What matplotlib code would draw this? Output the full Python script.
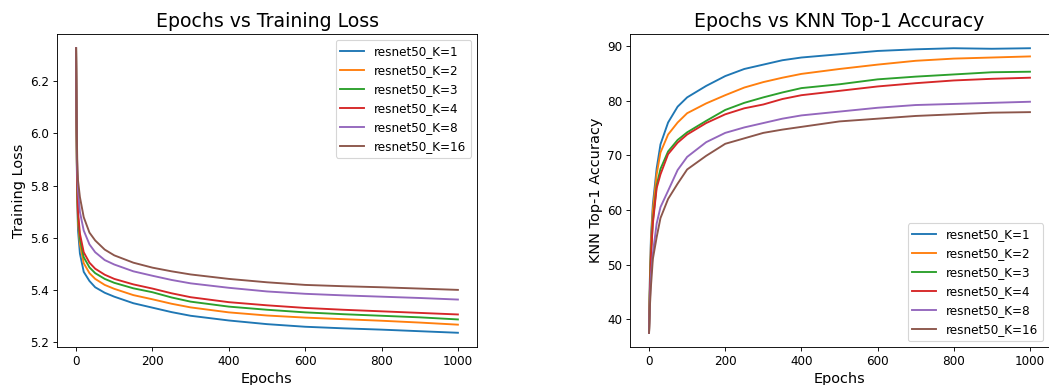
import matplotlib
matplotlib.use('Agg')
from matplotlib import pyplot as plt

labels = ['resnet50_K=1', 'resnet50_K=2', 'resnet50_K=3',
          'resnet50_K=4', 'resnet50_K=8', 'resnet50_K=16']

# valores (loss)
epocas_loss = [0, 1, 2, 3, 5, 10, 20, 35, 50, 75, 100, 150, 200, 250,
               300, 400, 500, 600, 700, 800, 900, 1000]
loss_k1 = [6.325, 6.05, 5.86, 5.75, 5.63, 5.54, 5.47, 5.435, 5.411, 5.39, 5.375,
           5.350, 5.333, 5.316, 5.302, 5.284, 5.270, 5.260, 5.254, 5.249, 5.243, 5.237]
loss_k2 = [6.325, 6.06, 5.88, 5.77, 5.66, 5.577, 5.503, 5.465, 5.443, 5.42, 5.405,
           5.381, 5.365, 5.348, 5.334, 5.315, 5.303, 5.295, 5.289, 5.283, 5.276, 5.268]
loss_k3 = [6.325, 6.06, 5.89, 5.79, 5.68, 5.597, 5.526, 5.487, 5.465, 5.443, 5.428,
           5.407, 5.392, 5.372, 5.356, 5.337, 5.325, 5.315, 5.308, 5.302, 5.296, 5.288]
loss_k4 = [6.325, 6.07, 5.90, 5.80, 5.70, 5.616, 5.545, 5.505, 5.482, 5.459, 5.443,
           5.422, 5.406, 5.388, 5.373, 5.354, 5.342, 5.332, 5.325, 5.319, 5.313, 5.307]
loss_k8 = [6.325, 6.10, 5.95, 5.86, 5.78, 5.699, 5.628, 5.575, 5.545, 5.515, 5.498,
           5.472, 5.455, 5.439, 5.426, 5.409, 5.395, 5.386, 5.380, 5.375, 5.370, 5.364]
loss_k16 = [6.325, 6.13, 5.99, 5.90, 5.82, 5.756, 5.679, 5.62, 5.59, 5.555, 5.533,
            5.505, 5.486, 5.472, 5.460, 5.443, 5.430, 5.420, 5.415, 5.411, 5.406, 5.401]

# valores (acuracia KNN)
epocas_acc = [0, 2, 5, 10, 20, 30, 50, 75, 100, 150, 200, 250, 300,
              350, 400, 500, 600, 700, 800, 900, 1000]
acc_k1 = [37.5, 47, 55, 61, 67.6, 72.0, 76.0, 78.9, 80.6, 82.7, 84.5, 85.8, 86.6,
          87.4, 87.9, 88.5, 89.1, 89.4, 89.6, 89.5, 89.6]
acc_k2 = [37.5, 46, 54, 60, 66.5, 70.5, 73.8, 76.0, 77.7, 79.5, 81.0, 82.4, 83.4,
          84.2, 84.9, 85.8, 86.6, 87.3, 87.7, 87.9, 88.1]
acc_k3 = [37.5, 45, 52, 58, 64.5, 67.5, 70.7, 72.8, 74.2, 76.3, 78.3, 79.6, 80.6,
          81.5, 82.3, 83.0, 83.9, 84.4, 84.8, 85.2, 85.3]
acc_k4 = [37.5, 44.5, 51.5, 57.5, 64, 66.5, 70.2, 72.3, 73.8, 75.9, 77.5, 78.6, 79.3,
          80.3, 81.0, 81.8, 82.6, 83.2, 83.7, 84.0, 84.2]
acc_k8 = [37.5, 43, 48, 52, 57.5, 60.5, 63.5, 67.3, 69.7, 72.4, 74.1, 75.1, 75.9,
          76.7, 77.3, 78.0, 78.7, 79.2, 79.4, 79.6, 79.8]
acc_k16 = [37.5, 42, 46, 51, 55, 58.5, 62.0, 64.8, 67.4, 69.9, 72.1, 73.1, 74.1,
           74.7, 75.2, 76.2, 76.7, 77.2, 77.5, 77.8, 77.9]

losses = [loss_k1, loss_k2, loss_k3, loss_k4, loss_k8, loss_k16]
accs = [acc_k1, acc_k2, acc_k3, acc_k4, acc_k8, acc_k16]

plt.rcParams['font.size'] = 10.8

fig = plt.figure(figsize=(1049 / 80, 385 / 80), dpi=80)
ax1 = fig.add_axes([57 / 1049, 38 / 385, 420 / 1049, 313 / 385])
ax2 = fig.add_axes([630 / 1049, 38 / 385, 419 / 1049, 313 / 385])

for lab, y in zip(labels, losses):
    ax1.plot(epocas_loss, y, label=lab, lw=1.7)
ax1.set_title("Epochs vs Training Loss", fontsize=17)
ax1.set_xlabel("Epochs", fontsize=13)
ax1.set_ylabel("Training Loss", fontsize=13)
ax1.legend(loc='upper right')

for lab, y in zip(labels, accs):
    ax2.plot(epocas_acc, y, label=lab, lw=1.7)
ax2.set_title("Epochs vs KNN Top-1 Accuracy", fontsize=17)
ax2.set_xlabel("Epochs", fontsize=13)
ax2.set_ylabel("KNN Top-1 Accuracy", fontsize=13)
ax2.legend(loc='lower right')

plt.savefig('out.png', dpi=80)
